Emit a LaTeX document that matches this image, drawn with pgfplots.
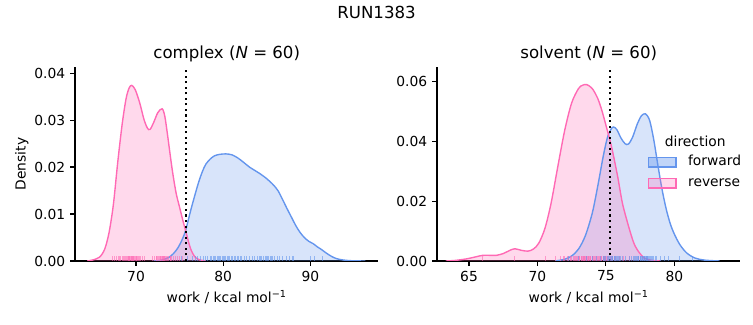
\documentclass[border=0pt]{standalone}
\usepackage{fontspec}
\setmainfont{DejaVu Sans}
\usepackage{pgfplots}
\pgfplotsset{compat=1.18}
\definecolor{fwd}{RGB}{100,149,237}
\definecolor{rev}{RGB}{255,105,180}
\pgfdeclareplotmark{rug}{\pgfpathmoveto{\pgfpointorigin}\pgfpathlineto{\pgfpoint{0pt}{3.5bp}}\pgfusepathqstroke}
\pgfplotsset{
  kdeaxis/.style={
    scale only axis, width=218.5bp, height=139.68bp,
    axis x line*=bottom, axis y line*=left,
    axis line style={-, line width=0.8bp},
    tick align=outside, major tick length=3.5bp,
    every tick/.style={black, line width=0.8bp},
    tick label style={font=\fontsize{10}{12}\selectfont},
    label style={font=\fontsize{10}{12}\selectfont},
    every axis title/.style={font=\fontsize{12}{14}\selectfont, at={(0.5,1)}, anchor=base, yshift=5.8bp},
    /pgf/number format/assume math mode=true,
    scaled y ticks=false,
    yticklabel style={/pgf/number format/.cd, fixed, fixed zerofill, precision=2},
    xticklabel style={/pgf/number format/.cd, fixed, precision=0},
    enlargelimits=false, ymin=0,
    xlabel={work / kcal mol\textsuperscript{−1}},
  },
  fillfwd/.style={draw=none, fill=fwd, fill opacity=0.25, smooth, forget plot},
  fillrev/.style={draw=none, fill=rev, fill opacity=0.25, smooth, forget plot},
  linefwd/.style={fwd, line width=1bp, smooth, forget plot},
  linerev/.style={rev, line width=1bp, smooth, forget plot},
  rugfwd/.style={only marks, mark=rug, mark options={draw=fwd, draw opacity=0.6, line width=0.75bp}, forget plot},
  rugrev/.style={only marks, mark=rug, mark options={draw=rev, draw opacity=0.6, line width=0.75bp}, forget plot},
  vdot/.style={black, line width=1.5bp, dash pattern=on 1.5bp off 2.5bp, forget plot},
}
\begin{document}
\begin{tikzpicture}
\useasboundingbox (0,0) rectangle (542.16bp,234bp);
\node[font=\fontsize{12}{14}\selectfont, anchor=base] at (271.1bp,220.8bp) {RUN1383};
% ---------------- complex ----------------
\begin{axis}[kdeaxis, at={(54bp,46.08bp)}, anchor=south west,
  xmin=63.0, xmax=97.8, ymax=0.0413,
  xtick={70,80,90}, ytick={0,0.01,0.02,0.03,0.04},
  ylabel={Density},
  ylabel style={at={(axis description cs:-0.175,0.5)}, anchor=center},
  title={complex (\textit{N} = 60)}]
\addplot[fillfwd] coordinates {(72.0,0) (72.7,0.0001) (73.3,0.0004) (73.8,0.0008) (74.3,0.0016) (74.8,0.0028) (75.3,0.0046) (75.7,0.0066) (76.3,0.0110) (77.1,0.0163) (77.6,0.0190) (78.0,0.0206) (78.5,0.0217) (79.0,0.0224) (79.6,0.0227) (80.3,0.0228) (81.0,0.0226) (81.7,0.0219) (82.4,0.0209) (83.0,0.0200) (83.6,0.0193) (84.2,0.0186) (84.8,0.0178) (85.3,0.0170) (85.8,0.0161) (86.3,0.0149) (86.8,0.0131) (87.3,0.0112) (87.8,0.0094) (88.3,0.0076) (88.8,0.0061) (89.3,0.0050) (89.8,0.0042) (90.3,0.0037) (90.8,0.0030) (91.3,0.0024) (91.8,0.0017) (92.4,0.0010) (93.0,0.0005) (93.8,0.0002) (94.8,0.00005) (96.3,0)} \closedcycle;
\addplot[fillrev] coordinates {(64.4,0) (65.0,0.0002) (65.8,0.0008) (66.4,0.0025) (66.9,0.006) (67.4,0.012) (67.9,0.021) (68.4,0.029) (68.85,0.0345) (69.2,0.0368) (69.5,0.0374) (69.9,0.0365) (70.4,0.0338) (70.9,0.0302) (71.3,0.0283) (71.6,0.0280) (72.0,0.0294) (72.5,0.0316) (73.0,0.0324) (73.3,0.0308) (73.6,0.0270) (73.9,0.0228) (74.2,0.0188) (74.6,0.0144) (75.0,0.0114) (75.4,0.0084) (75.7,0.0064) (76.0,0.0042) (76.3,0.0024) (76.7,0.0010) (77.2,0.0003) (78.0,0)} \closedcycle;
\addplot[linefwd] coordinates {(72.0,0) (72.7,0.0001) (73.3,0.0004) (73.8,0.0008) (74.3,0.0016) (74.8,0.0028) (75.3,0.0046) (75.7,0.0066) (76.3,0.0110) (77.1,0.0163) (77.6,0.0190) (78.0,0.0206) (78.5,0.0217) (79.0,0.0224) (79.6,0.0227) (80.3,0.0228) (81.0,0.0226) (81.7,0.0219) (82.4,0.0209) (83.0,0.0200) (83.6,0.0193) (84.2,0.0186) (84.8,0.0178) (85.3,0.0170) (85.8,0.0161) (86.3,0.0149) (86.8,0.0131) (87.3,0.0112) (87.8,0.0094) (88.3,0.0076) (88.8,0.0061) (89.3,0.0050) (89.8,0.0042) (90.3,0.0037) (90.8,0.0030) (91.3,0.0024) (91.8,0.0017) (92.4,0.0010) (93.0,0.0005) (93.8,0.0002) (94.8,0.00005) (96.3,0)};
\addplot[linerev] coordinates {(64.4,0) (65.0,0.0002) (65.8,0.0008) (66.4,0.0025) (66.9,0.006) (67.4,0.012) (67.9,0.021) (68.4,0.029) (68.85,0.0345) (69.2,0.0368) (69.5,0.0374) (69.9,0.0365) (70.4,0.0338) (70.9,0.0302) (71.3,0.0283) (71.6,0.0280) (72.0,0.0294) (72.5,0.0316) (73.0,0.0324) (73.3,0.0308) (73.6,0.0270) (73.9,0.0228) (74.2,0.0188) (74.6,0.0144) (75.0,0.0114) (75.4,0.0084) (75.7,0.0064) (76.0,0.0042) (76.3,0.0024) (76.7,0.0010) (77.2,0.0003) (78.0,0)};
\addplot[rugrev] coordinates {(67.3,0) (67.5,0) (67.8,0) (68.0,0) (68.2,0) (68.4,0) (68.6,0) (68.7,0) (68.9,0) (69.0,0) (69.1,0) (69.2,0) (69.3,0) (69.4,0) (69.5,0) (69.6,0) (69.7,0) (69.8,0) (69.9,0) (70.0,0) (70.1,0) (70.3,0) (70.5,0) (70.7,0) (71.0,0) (71.9,0) (72.1,0) (72.3,0) (72.5,0) (72.6,0) (72.7,0) (72.8,0) (72.9,0) (73.0,0) (73.1,0) (73.2,0) (73.3,0) (73.4,0) (73.5,0) (73.7,0) (73.9,0) (74.1,0) (74.3,0) (74.5,0) (74.7,0) (75.0,0) (75.3,0) (68.1,0) (69.15,0) (69.45,0) (69.65,0) (70.2,0) (72.4,0) (72.85,0) (73.05,0) (73.25,0) (73.6,0) (74.0,0) (70.4,0) (68.8,0)};
\addplot[rugfwd] coordinates {(75.2,0) (75.9,0) (76.5,0) (77.1,0) (77.4,0) (77.7,0) (78.0,0) (78.2,0) (78.5,0) (78.7,0) (78.9,0) (79.1,0) (79.3,0) (79.5,0) (79.7,0) (79.9,0) (80.1,0) (80.3,0) (80.5,0) (80.7,0) (80.9,0) (81.1,0) (81.3,0) (81.6,0) (81.8,0) (82.1,0) (82.4,0) (82.7,0) (83.0,0) (83.3,0) (83.6,0) (83.9,0) (84.2,0) (84.4,0) (84.6,0) (84.8,0) (85.0,0) (85.2,0) (85.4,0) (85.6,0) (85.9,0) (86.2,0) (86.5,0) (86.8,0) (87.2,0) (87.6,0) (88.0,0) (90.0,0) (90.5,0) (91.4,0) (79.0,0) (79.6,0) (80.0,0) (80.6,0) (81.4,0) (82.0,0) (84.3,0) (85.1,0) (85.5,0) (76.8,0)};
\addplot[vdot] coordinates {(75.71,0) (75.71,0.0413)};
\end{axis}
% ---------------- solvent ----------------
\begin{axis}[kdeaxis, at={(314.64bp,46.08bp)}, anchor=south west,
  xmin=62.66, xmax=84.83, ymax=0.065,
  xtick={65,70,75,80}, ytick={0,0.02,0.04,0.06},
  title={solvent (\textit{N} = 60)},
  legend cell align=left,
  legend style={draw=none, fill=none, at={(0.6934,0.455)}, anchor=west, inner sep=0pt, row sep=0pt,
    nodes={inner sep=2.8bp, text height=7.3bp, text depth=2.2bp, font=\fontsize{10}{12}\selectfont},
    /tikz/every odd column/.append style={column sep=5.3bp}}]
\addplot[fillfwd] coordinates {(71.3,0) (72.0,0.0006) (72.5,0.0017) (73.0,0.0040) (73.5,0.0085) (74.0,0.0160) (74.4,0.0250) (74.8,0.0350) (75.1,0.0412) (75.35,0.0440) (75.55,0.0449) (75.8,0.0440) (76.1,0.0412) (76.4,0.0393) (76.65,0.0392) (76.95,0.0415) (77.3,0.0460) (77.6,0.0487) (77.9,0.0493) (78.2,0.0470) (78.5,0.0405) (78.8,0.0320) (79.1,0.0240) (79.4,0.0175) (79.7,0.0125) (80.0,0.0090) (80.4,0.0055) (80.9,0.0027) (81.5,0.0010) (82.2,0.0003) (83.3,0)} \closedcycle;
\addplot[fillrev] coordinates {(63.3,0) (64.0,0.0002) (64.8,0.0007) (65.5,0.0014) (66.0,0.0019) (66.5,0.0019) (67.0,0.0019) (67.5,0.0025) (68.0,0.0036) (68.35,0.0041) (68.8,0.0036) (69.3,0.0033) (69.7,0.0040) (70.1,0.0060) (70.55,0.0110) (71.0,0.0195) (71.5,0.0320) (72.0,0.0440) (72.5,0.0530) (73.0,0.0578) (73.3,0.0589) (73.6,0.0591) (74.0,0.0578) (74.4,0.0545) (74.7,0.0505) (75.0,0.0455) (75.4,0.0385) (75.85,0.0285) (76.2,0.0195) (76.6,0.0125) (77.0,0.0065) (77.3,0.0037) (77.8,0.0010) (78.4,0.0002) (79.0,0)} \closedcycle;
\addplot[linefwd] coordinates {(71.3,0) (72.0,0.0006) (72.5,0.0017) (73.0,0.0040) (73.5,0.0085) (74.0,0.0160) (74.4,0.0250) (74.8,0.0350) (75.1,0.0412) (75.35,0.0440) (75.55,0.0449) (75.8,0.0440) (76.1,0.0412) (76.4,0.0393) (76.65,0.0392) (76.95,0.0415) (77.3,0.0460) (77.6,0.0487) (77.9,0.0493) (78.2,0.0470) (78.5,0.0405) (78.8,0.0320) (79.1,0.0240) (79.4,0.0175) (79.7,0.0125) (80.0,0.0090) (80.4,0.0055) (80.9,0.0027) (81.5,0.0010) (82.2,0.0003) (83.3,0)};
\addplot[linerev] coordinates {(63.3,0) (64.0,0.0002) (64.8,0.0007) (65.5,0.0014) (66.0,0.0019) (66.5,0.0019) (67.0,0.0019) (67.5,0.0025) (68.0,0.0036) (68.35,0.0041) (68.8,0.0036) (69.3,0.0033) (69.7,0.0040) (70.1,0.0060) (70.55,0.0110) (71.0,0.0195) (71.5,0.0320) (72.0,0.0440) (72.5,0.0530) (73.0,0.0578) (73.3,0.0589) (73.6,0.0591) (74.0,0.0578) (74.4,0.0545) (74.7,0.0505) (75.0,0.0455) (75.4,0.0385) (75.85,0.0285) (76.2,0.0195) (76.6,0.0125) (77.0,0.0065) (77.3,0.0037) (77.8,0.0010) (78.4,0.0002) (79.0,0)};
\addplot[rugrev] coordinates {(65.96,0) (68.3,0) (70.6,0) (71.3,0) (71.7,0) (72.0,0) (72.2,0) (72.4,0) (72.6,0) (72.7,0) (72.8,0) (72.9,0) (73.0,0) (73.1,0) (73.2,0) (73.3,0) (73.35,0) (73.4,0) (73.5,0) (73.55,0) (73.6,0) (73.7,0) (73.75,0) (73.8,0) (73.9,0) (74.0,0) (74.1,0) (74.2,0) (74.3,0) (74.4,0) (74.5,0) (74.6,0) (74.7,0) (74.8,0) (74.9,0) (75.0,0) (75.1,0) (75.2,0) (75.3,0) (75.5,0) (75.7,0) (76.0,0) (76.3,0) (76.7,0) (72.5,0) (72.85,0) (73.05,0) (73.25,0) (73.45,0) (73.65,0) (73.85,0) (74.05,0) (74.25,0) (74.45,0) (74.65,0) (74.85,0) (75.05,0) (71.9,0) (72.3,0) (75.4,0)};
\addplot[rugfwd] coordinates {(72.3,0) (73.0,0) (73.6,0) (74.0,0) (74.3,0) (74.6,0) (74.8,0) (75.0,0) (75.1,0) (75.2,0) (75.3,0) (75.4,0) (75.5,0) (75.6,0) (75.7,0) (75.8,0) (75.9,0) (76.0,0) (76.2,0) (76.4,0) (76.7,0) (76.9,0) (77.0,0) (77.1,0) (77.2,0) (77.3,0) (77.4,0) (77.5,0) (77.6,0) (77.65,0) (77.7,0) (77.75,0) (77.8,0) (77.85,0) (77.9,0) (78.0,0) (78.1,0) (78.2,0) (78.3,0) (78.4,0) (78.5,0) (78.7,0) (79.0,0) (79.3,0) (79.6,0) (80.4,0) (81.3,0) (75.25,0) (75.45,0) (75.65,0) (75.85,0) (77.15,0) (77.35,0) (77.55,0) (77.95,0) (78.05,0) (78.25,0) (76.1,0) (74.9,0) (78.6,0)};
\addplot[vdot] coordinates {(75.27,0) (75.27,0.065)};
\addlegendimage{legend image code/.code={\draw[draw=fwd, fill=fwd, fill opacity=0.4, line width=1bp] (0bp,-3.5bp) rectangle (20bp,3.5bp);}}
\addlegendentry{forward}
\addlegendimage{legend image code/.code={\draw[draw=rev, fill=rev, fill opacity=0.25, line width=1bp] (0bp,-3.5bp) rectangle (20bp,3.5bp);}}
\addlegendentry{reverse}
\node[anchor=base, font=\fontsize{10}{12}\selectfont] at (rel axis cs:0.851,0.589) {direction};
\end{axis}
\end{tikzpicture}
\end{document}
